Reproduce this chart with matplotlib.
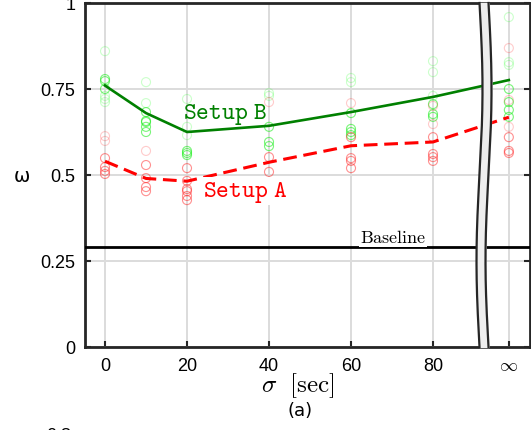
import numpy as np
import matplotlib
matplotlib.use("Agg")
import matplotlib.pyplot as plt

plt.rcParams["mathtext.fontset"] = "cm"
plt.rcParams["font.family"] = ["Liberation Sans", "DejaVu Sans"]

# x position used for the "infinity" column (after the axis break)
INF_X = 98.5

# mean curves
line_x = [0, 10, 20, 40, 60, 80, INF_X]
setup_b = [0.760, 0.680, 0.625, 0.643, 0.683, 0.727, 0.776]
setup_a = [0.540, 0.490, 0.482, 0.537, 0.585, 0.596, 0.668]
baseline = 0.29

# individual runs, setup B (green)
green_x_strong = [0, 0, 0, 10, 10, 10, 10, 10, 20, 20, 20, 40, 40, 40,
                  60, 60, 60, 60, 80, 80, 80, INF_X, INF_X, INF_X, INF_X]
green_y_strong = [0.779, 0.773, 0.750, 0.683, 0.657, 0.654, 0.640, 0.625,
                  0.570, 0.564, 0.558, 0.640, 0.596, 0.584,
                  0.680, 0.634, 0.625, 0.616, 0.706, 0.677, 0.669,
                  0.750, 0.712, 0.689, 0.669]
green_x_faint = [0, 0, 0, 0, 10, 10, 20, 20, 20, 40, 40, 60, 60,
                 80, 80, 80, INF_X, INF_X, INF_X]
green_y_faint = [0.860, 0.730, 0.721, 0.712, 0.770, 0.709, 0.721, 0.640,
                 0.616, 0.738, 0.730, 0.782, 0.770, 0.831, 0.799, 0.730,
                 0.959, 0.828, 0.820]

# individual runs, setup A (red)
red_x_strong = [0, 0, 0, 0, 10, 10, 10, 10, 20, 20, 20, 20, 20, 20,
                40, 40, 60, 60, 60, 60, 80, 80, 80, 80, INF_X, INF_X, INF_X]
red_y_strong = [0.549, 0.523, 0.512, 0.503, 0.529, 0.491, 0.465, 0.453,
                0.520, 0.483, 0.459, 0.453, 0.439, 0.427, 0.552, 0.509,
                0.610, 0.549, 0.541, 0.520, 0.610, 0.561, 0.552, 0.541,
                0.610, 0.570, 0.564]
red_x_faint = [0, 0, 10, 40, 60, 80, 80, INF_X, INF_X, INF_X]
red_y_faint = [0.613, 0.599, 0.570, 0.712, 0.709, 0.701, 0.648,
               0.869, 0.718, 0.640]

x_ticks = [0, 20, 40, 60, 80, INF_X]
x_tick_labels = ["0", "20", "40", "60", "80", r"$\infty$"]
y_ticks = [0, 0.25, 0.5, 0.75, 1]
y_tick_labels = ["0", "0.25", "0.5", "0.75", "1"]

fig = plt.figure(figsize=(5.31, 4.31), dpi=100)
ax = fig.add_axes([85 / 531, 1 - 348 / 431, 445 / 531, 344 / 431])
ax.set_xlim(-4.88, 103.66)
ax.set_ylim(0, 1)

ax.grid(True, color="#dcdcdc", linewidth=1.4)
ax.set_axisbelow(True)

mk = dict(marker="o", facecolors="none", s=42, linewidths=0.8, zorder=2)
ax.scatter(green_x_faint, green_y_faint, edgecolors="#33ff33", alpha=0.25, **mk)
ax.scatter(green_x_strong, green_y_strong, edgecolors="#22ee22", alpha=0.6, **mk)
ax.scatter(red_x_faint, red_y_faint, edgecolors="#ff3333", alpha=0.25, **mk)
ax.scatter(red_x_strong, red_y_strong, edgecolors="#ff2222", alpha=0.5, **mk)

ax.plot(line_x, setup_b, color="#008000", linewidth=1.9, zorder=3)
ax.plot(line_x, setup_a, color="#ff0000", linewidth=2.2, zorder=3,
        dashes=(4.5, 2.2))
ax.axhline(baseline, color="black", linewidth=2.0, zorder=3)

ax.text(19.0, 0.68, r"$\mathtt{Setup\ B}$", color="#008000", fontsize=17.5,
        va="center", ha="left", zorder=4)
ax.text(23.9, 0.453, r"$\mathtt{Setup\ A}$", color="#ff0000", fontsize=17.5,
        va="center", ha="left", zorder=4,
        bbox=dict(facecolor="white", edgecolor="none", pad=1))
ax.text(62.2, 0.318, r"$\mathrm{Baseline}$", color="black", fontsize=13,
        va="center", ha="left", zorder=4,
        bbox=dict(facecolor="white", edgecolor="none", pad=0.5))

ax.set_xticks(x_ticks)
ax.set_xticklabels(x_tick_labels)
ax.set_yticks(y_ticks)
ax.set_yticklabels(y_tick_labels)
for lab in ax.get_xticklabels()[-1:]:
    lab.set_fontsize(17)
ax.tick_params(direction="in", length=4, width=1.5, color="#262626",
               labelsize=13, pad=7, right=True, top=False)

for sp in ax.spines.values():
    sp.set_linewidth(2.0)
    sp.set_color("#262626")

# axis break: two wavy lines with a light fill between them
t = np.linspace(0, 1, 200)
cx = (484 - 85) / 445 - (3 / 445) * np.sin(2 * np.pi * t)
hw = 4.5 / 445
ax.fill_betweenx(t, cx - hw, cx + hw, color="#eeeeee", transform=ax.transAxes,
                 clip_on=False, zorder=6)
ax.plot(cx - hw, t, color="#262626", linewidth=1.6, transform=ax.transAxes,
        clip_on=False, zorder=7)
ax.plot(cx + hw, t, color="#262626", linewidth=1.6, transform=ax.transAxes,
        clip_on=False, zorder=7)

fig.text(22 / 531, 1 - 177 / 431, "ω", fontsize=14, family="DejaVu Sans",
         ha="center", va="center")
fig.text(298 / 531, 1 - 386 / 431, r"$\sigma\ \ [\mathrm{sec}]$",
         fontsize=18, ha="center", va="center")
fig.text(300 / 531, 1 - 411 / 431, "(a)", fontsize=13, family="DejaVu Sans",
         ha="center", va="center")
fig.text(46 / 531, 1 - 428 / 431, "0.8", fontsize=13, ha="left", va="top")

fig.savefig("out.png", dpi=100)
